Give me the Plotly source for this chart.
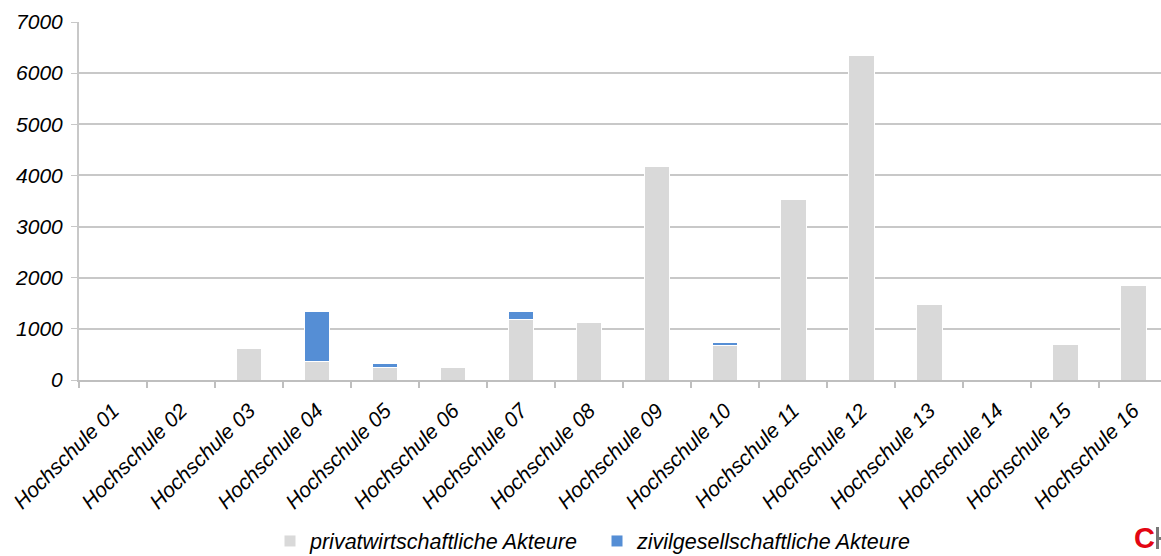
import plotly.graph_objects as go

# Drittmittel je Hochschule, nach Art der Geldgeber
hochschulen = [f"Hochschule {i:02d}" for i in range(1, 17)]
privatwirtschaftlich = [0, 0, 620, 370, 250, 250, 1190, 1120, 4165, 680, 3530, 6340, 1470, 0, 690, 1840]
zivilgesellschaftlich = [0, 0, 0, 960, 75, 0, 140, 0, 0, 55, 0, 0, 0, 0, 0, 10]

y_ticks = [0, 1000, 2000, 3000, 4000, 5000, 6000, 7000]

FONT = "Liberation Sans, Arial, sans-serif"
GREY = "#d9d9d9"
BLUE = "#558ed5"
FS = 21

# Plotfläche in Pixeln (für Logo-Platzierung)
L, T, B, W, H = 79, 22, 176, 1161, 556
PW, PH = W - L, H - T - B


def px(x):
    return (x - L) / PW


def py(y):
    return (H - B - y) / PH


fig = go.Figure()
fig.add_trace(go.Bar(
    x=hochschulen, y=privatwirtschaftlich, name="privatwirtschaftliche Akteure",
    marker=dict(color=GREY, line=dict(color="white", width=1)), width=0.38,
))
fig.add_trace(go.Bar(
    x=hochschulen, y=zivilgesellschaftlich, name="zivilgesellschaftliche Akteure",
    marker=dict(color=BLUE, line=dict(color="white", width=1)), width=0.38,
))

fig.update_layout(
    width=W, height=H,
    margin=dict(l=L, r=0, t=T, b=B, autoexpand=False),
    barmode="stack",
    plot_bgcolor="white", paper_bgcolor="white",
    font=dict(family=FONT, size=FS, color="black", style="italic"),
    legend=dict(
        orientation="h", xref="container", x=597 / W, xanchor="center",
        yref="container", y=1 - 541 / H, yanchor="middle",
        font=dict(family=FONT, size=21.5, color="black", style="italic"),
        traceorder="normal", itemwidth=30, entrywidth=282,
    ),
    xaxis=dict(
        range=[-0.5, 15.41], automargin=False,
        tickangle=-45, tickson="boundaries", ticks="outside", ticklen=6,
        tickcolor="#bfbfbf", tickwidth=1.5,
        showline=True, linecolor="#bfbfbf", linewidth=2,
        showgrid=False, ticklabelstandoff=8,
        tickfont=dict(family=FONT, size=FS, color="black", style="italic"),
    ),
    yaxis=dict(
        range=[0, 7000], tickvals=y_ticks, automargin=False,
        showgrid=True, gridcolor="#c8c8c8", gridwidth=2,
        showline=True, linecolor="#c8c8c8", linewidth=2,
        zeroline=False, ticks="outside", ticklen=6, tickcolor="#c8c8c8",
        tickfont=dict(family=FONT, size=FS, color="black", style="italic"),
        ticklabelstandoff=4,
    ),
    showlegend=True,
)

# Logo am rechten unteren Rand: rotes "C", daneben Ansatz des "H"
fig.add_annotation(
    xref="paper", yref="paper", x=px(1156), y=py(538), xanchor="right", yanchor="middle",
    text="<b>C</b>", showarrow=False, borderpad=0,
    font=dict(family=FONT, size=29, color="#e30613", style="normal"),
)
fig.add_shape(type="rect", xref="paper", yref="paper",
              x0=px(1156), x1=px(1159), y0=py(549), y1=py(527),
              fillcolor="#777777", line=dict(width=0))
fig.add_shape(type="rect", xref="paper", yref="paper",
              x0=px(1159), x1=px(1161), y0=py(540), y1=py(537),
              fillcolor="#777777", line=dict(width=0))

fig.write_html("out.html")
